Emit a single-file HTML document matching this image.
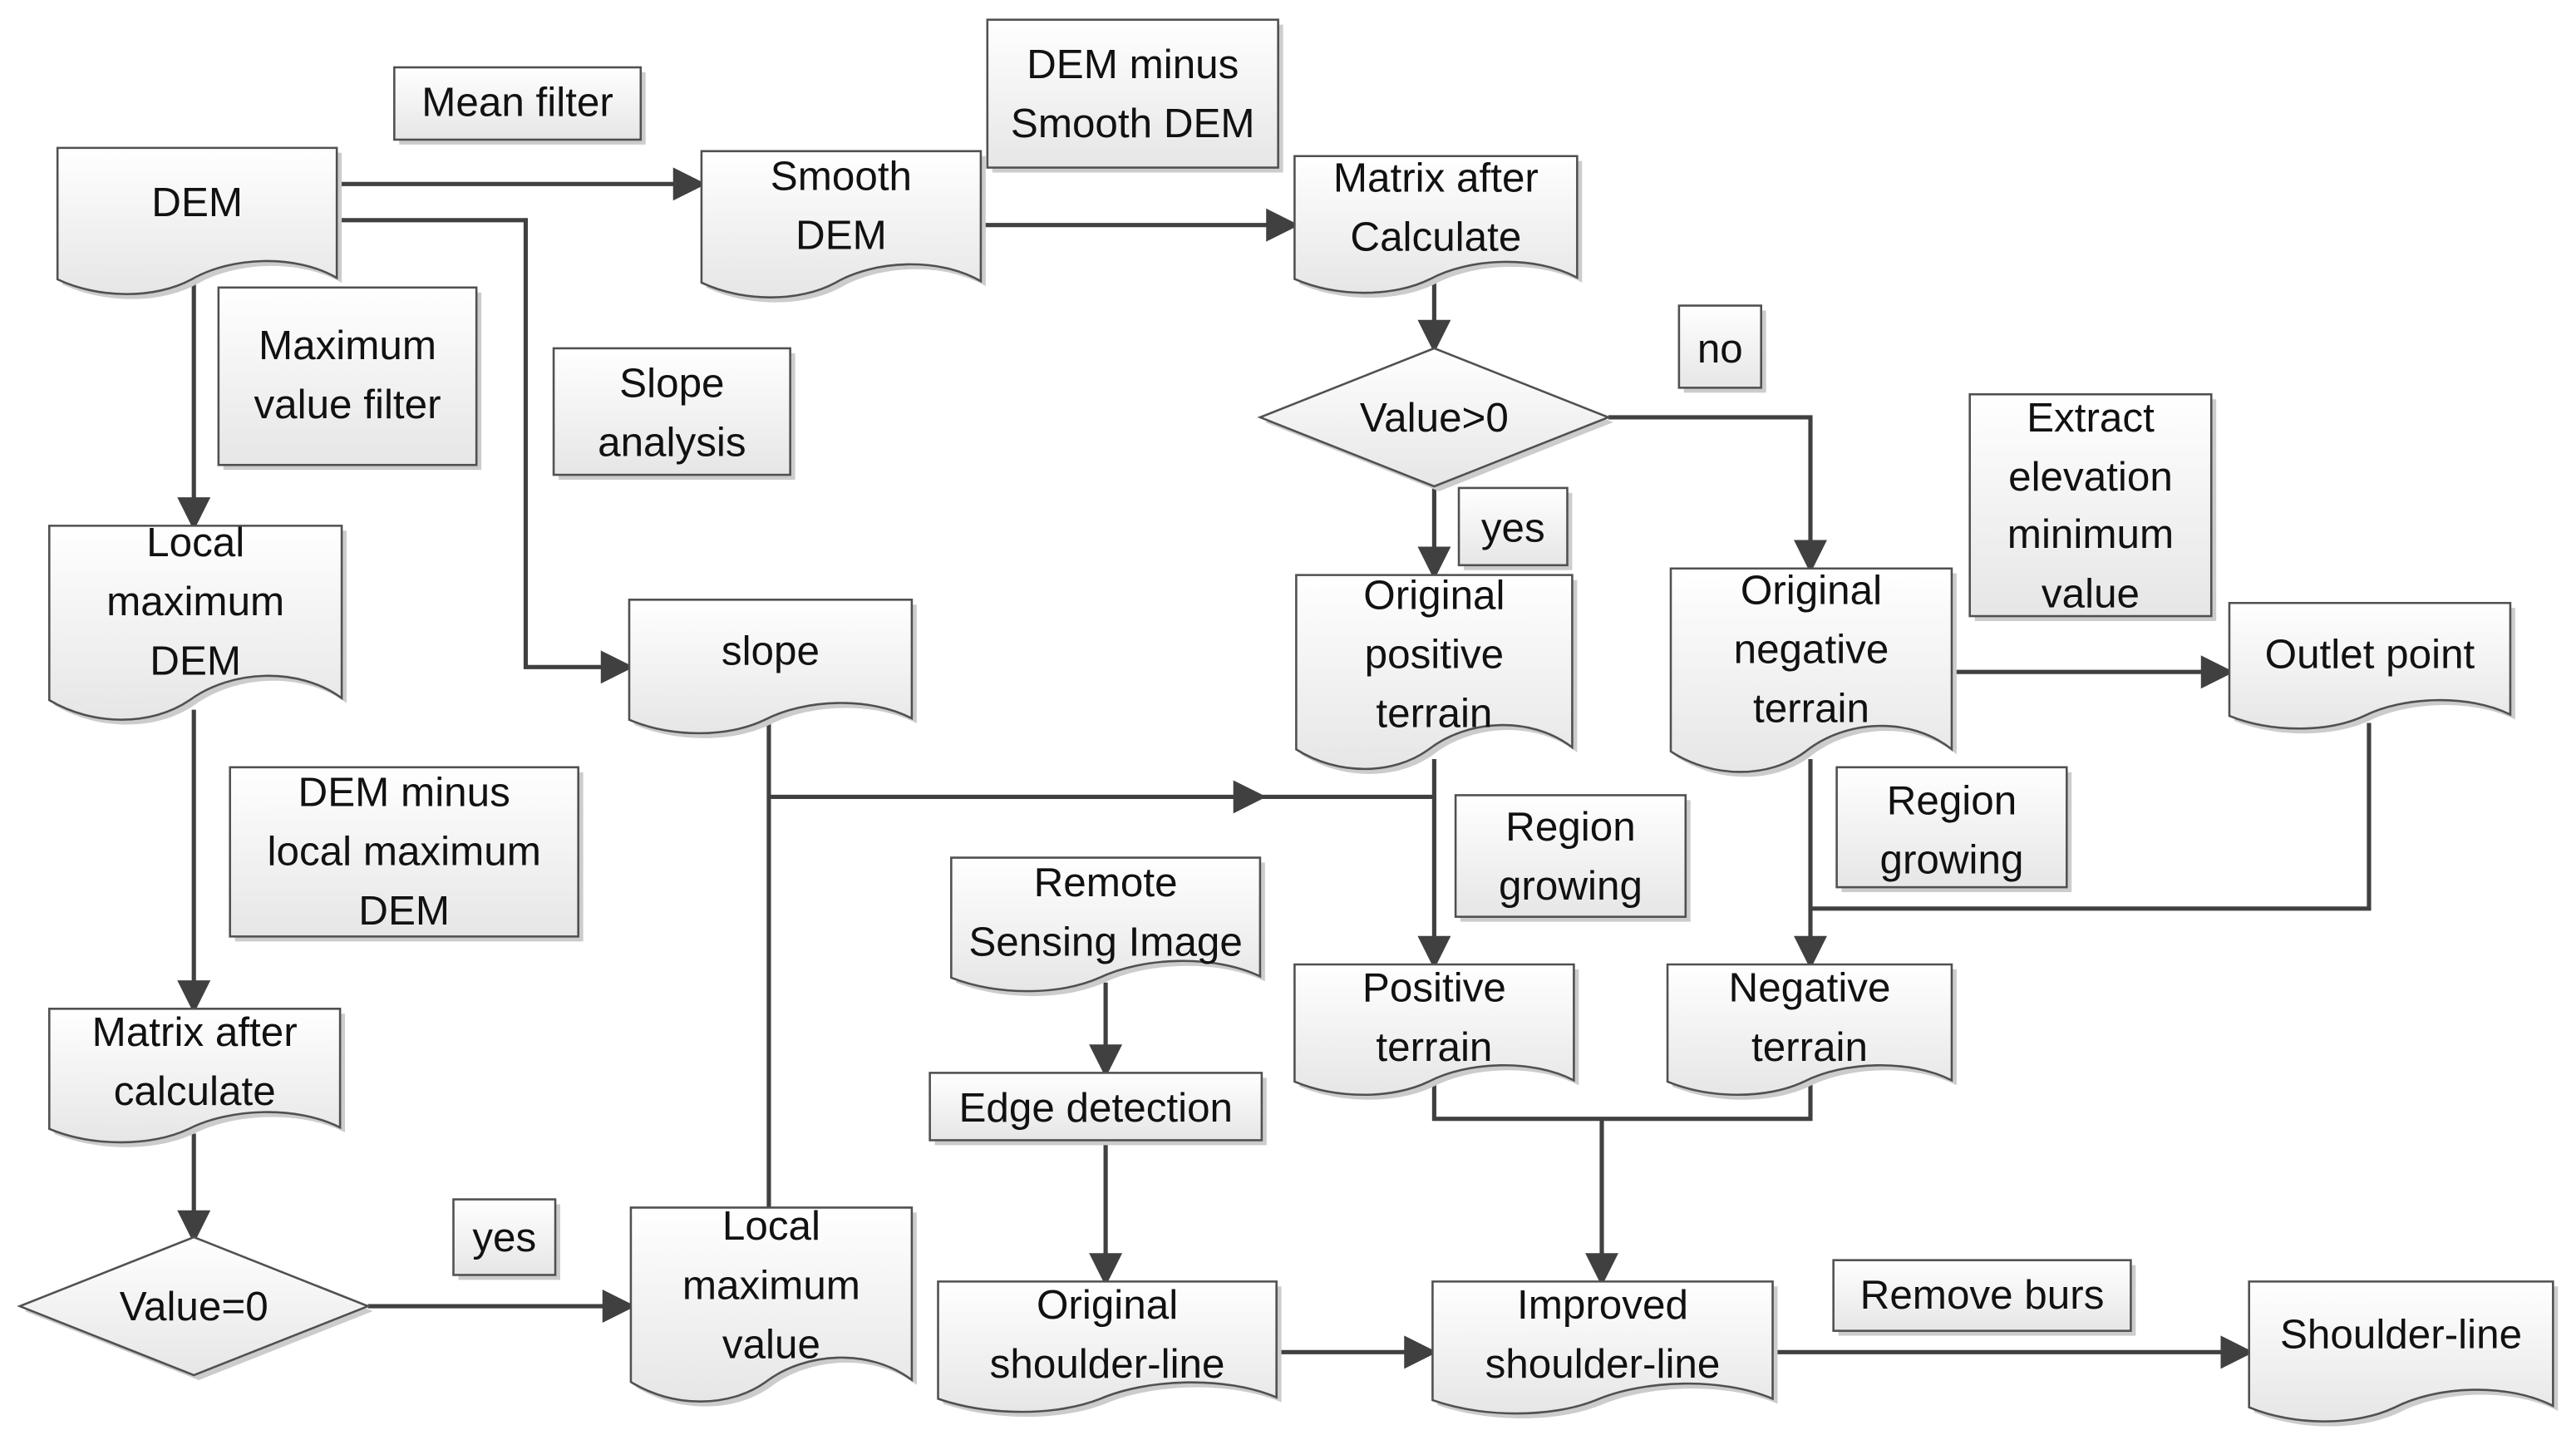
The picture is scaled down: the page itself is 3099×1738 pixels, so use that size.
<!DOCTYPE html>
<html><head><meta charset="utf-8"><style>
html,body{margin:0;padding:0;background:#fff;}
svg{display:block;}
text{font-family:"Liberation Sans",sans-serif;font-size:25px;fill:#111;text-anchor:middle;dominant-baseline:middle;}
</style></head><body>
<svg width="3099" height="1738" viewBox="0 0 1568 879.5" preserveAspectRatio="none" xmlns="http://www.w3.org/2000/svg">
<defs>
<linearGradient id="g" x1="0" y1="0" x2="0" y2="1"><stop offset="0" stop-color="#ffffff"/><stop offset="1" stop-color="#e6e6e6"/></linearGradient>
</defs>
<g fill="none" stroke="#404040" stroke-width="2.6">
<polyline points="205,112 425,112"/><path d="M411,104 L427,112 L411,120z" fill="#404040"/>
<polyline points="205,134 320,134 320,406 381,406"/><path d="M367,398 L383,406 L367,414z" fill="#404040"/>
<polyline points="118,172 118,318"/><path d="M110,304 L118,320 L126,304z" fill="#404040"/>
<polyline points="597,137 786,137"/><path d="M772,129 L788,137 L772,145z" fill="#404040"/>
<polyline points="873,170 873,210"/><path d="M865,196 L873,212 L881,196z" fill="#404040"/>
<polyline points="873,296 873,348"/><path d="M865,334 L873,350 L881,334z" fill="#404040"/>
<polyline points="979,254 1102,254 1102,344"/><path d="M1094,330 L1102,346 L1110,330z" fill="#404040"/>
<polyline points="118,432 118,612"/><path d="M110,598 L118,614 L126,598z" fill="#404040"/>
<polyline points="118,690 118,752"/><path d="M110,738 L118,754 L126,738z" fill="#404040"/>
<polyline points="224,795 382,795"/><path d="M368,787 L384,795 L368,803z" fill="#404040"/>
<polyline points="468,440 468,735"/>
<polyline points="468,485 873,485"/><path d="M752,477 L768,485 L752,493z" fill="#404040"/>
<polyline points="873,462 873,585"/><path d="M865,571 L873,587 L881,571z" fill="#404040"/>
<polyline points="1188,409 1355,409"/><path d="M1341,401 L1357,409 L1341,417z" fill="#404040"/>
<polyline points="1102,462 1102,585"/><path d="M1094,571 L1102,587 L1110,571z" fill="#404040"/>
<polyline points="1442,440 1442,553 1102,553"/>
<polyline points="673,598 673,651"/><path d="M665,637 L673,653 L681,637z" fill="#404040"/>
<polyline points="673,694 673,778"/><path d="M665,764 L673,780 L681,764z" fill="#404040"/>
<polyline points="873,660 873,681 1102,681 1102,660"/>
<polyline points="975,681 975,778"/><path d="M967,764 L975,780 L983,764z" fill="#404040"/>
<polyline points="777,823 870,823"/><path d="M856,815 L872,823 L856,831z" fill="#404040"/>
<polyline points="1079,823 1367,823"/><path d="M1353,815 L1369,823 L1353,831z" fill="#404040"/>
</g>
<g id="shapes" stroke="#505050" stroke-width="1.3"></g>
<g id="labels"></g>
<script>
var NS="http://www.w3.org/2000/svg",S=document.getElementById("shapes"),L=document.getElementById("labels");
function el(t,a,p){var e=document.createElementNS(NS,t);for(var k in a)e.setAttribute(k,a[k]);(p||S).appendChild(e);return e;}
function txt(x,ys,lines){lines.forEach(function(s,i){var t=el("text",{x:x,y:ys[i]+2},L);t.textContent=s;});}
function docPath(x,y,w,h){return "M"+x+","+y+" H"+(x+w)+" V"+(y+0.86*h)+" C"+(x+0.85*w)+","+(y+0.7*h)+" "+(x+0.62*w)+","+(y+0.72*h)+" "+(x+0.48*w)+","+(y+0.87*h)+" C"+(x+0.35*w)+","+(y+1.0*h)+" "+(x+0.15*w)+","+(y+1.0*h)+" "+x+","+(y+0.87*h)+" Z";}
function doc(x1,y,x2,yb,tx,lines,tys){var w=x2-x1,h=yb-y;
el("path",{d:docPath(x1+3,y+3,w,h),fill:"#cccccc",stroke:"none"});
el("path",{d:docPath(x1,y,w,h),fill:"url(#g)"});
txt(tx||(x1+w/2),tys,lines);}
function box(x1,y1,x2,y2,lines,tys){
el("rect",{x:x1+3,y:y1+3,width:x2-x1,height:y2-y1,fill:"#cccccc",stroke:"none"});
el("rect",{x:x1,y:y1,width:x2-x1,height:y2-y1,fill:"url(#g)"});
txt((x1+x2)/2,tys,lines);}
function dia(cx,cy,hw,hh,s){
el("path",{d:"M"+(cx-hw+3)+","+(cy+3)+" L"+(cx+3)+","+(cy-hh+3)+" L"+(cx+hw+3)+","+(cy+3)+" L"+(cx+3)+","+(cy+hh+3)+"Z",fill:"#cccccc",stroke:"none"});
el("path",{d:"M"+(cx-hw)+","+cy+" L"+cx+","+(cy-hh)+" L"+(cx+hw)+","+cy+" L"+cx+","+(cy+hh)+"Z",fill:"url(#g)"});
txt(cx,[cy],[s]);}
doc(35,90,205,182,0,["DEM"],[123]);
doc(427,92,597,184,0,["Smooth","DEM"],[107,143]);
doc(788,95,960,181,0,["Matrix after","Calculate"],[108,144]);
doc(30,320,208,442,0,["Local","maximum","DEM"],[330,366,402]);
doc(383,365,555,449,0,["slope"],[396]);
doc(789,350,957,472,0,["Original","positive","terrain"],[362,398,434]);
doc(1017,346,1188,474,0,["Original","negative","terrain"],[359,395,431]);
doc(1357,367,1528,446,0,["Outlet point"],[398]);
doc(579,522,767,606,0,["Remote","Sensing Image"],[537,573]);
doc(788,587,958,669,0,["Positive","terrain"],[601,637]);
doc(1015,587,1188,669,0,["Negative","terrain"],[601,637]);
doc(30,614,207,698,0,["Matrix after","calculate"],[628,664]);
doc(384,735,555,857,0,["Local","maximum","value"],[746,782,818]);
doc(571,780,777,862,0,["Original","shoulder-line"],[794,830]);
doc(872,780,1079,863,0,["Improved","shoulder-line"],[794,830]);
doc(1369,780,1554,868,0,["Shoulder-line"],[812]);
box(240,41,390,85,["Mean filter"],[62]);
box(601,12,778,102,["DEM minus","Smooth DEM"],[39,75]);
box(133,175,290,283,["Maximum","value filter"],[210,246]);
box(337,212,481,289,["Slope","analysis"],[233,269]);
box(1022,186,1072,236,["no"],[212]);
box(888,297,954,344,["yes"],[321]);
box(1199,240,1346,375,["Extract","elevation","minimum","value"],[254,290,325,361]);
box(140,467,352,570,["DEM minus","local maximum","DEM"],[482,518,554]);
box(886,484,1026,558,["Region","growing"],[503,539]);
box(1118,467,1258,540,["Region","growing"],[487,523]);
box(566,653,768,694,["Edge detection"],[674]);
box(276,730,338,776,["yes"],[753]);
box(1116,767,1297,810,["Remove burs"],[788]);
dia(873,254,106,42,"Value>0");
dia(118,795,106,42,"Value=0");
</script>
</svg>
</body></html>
